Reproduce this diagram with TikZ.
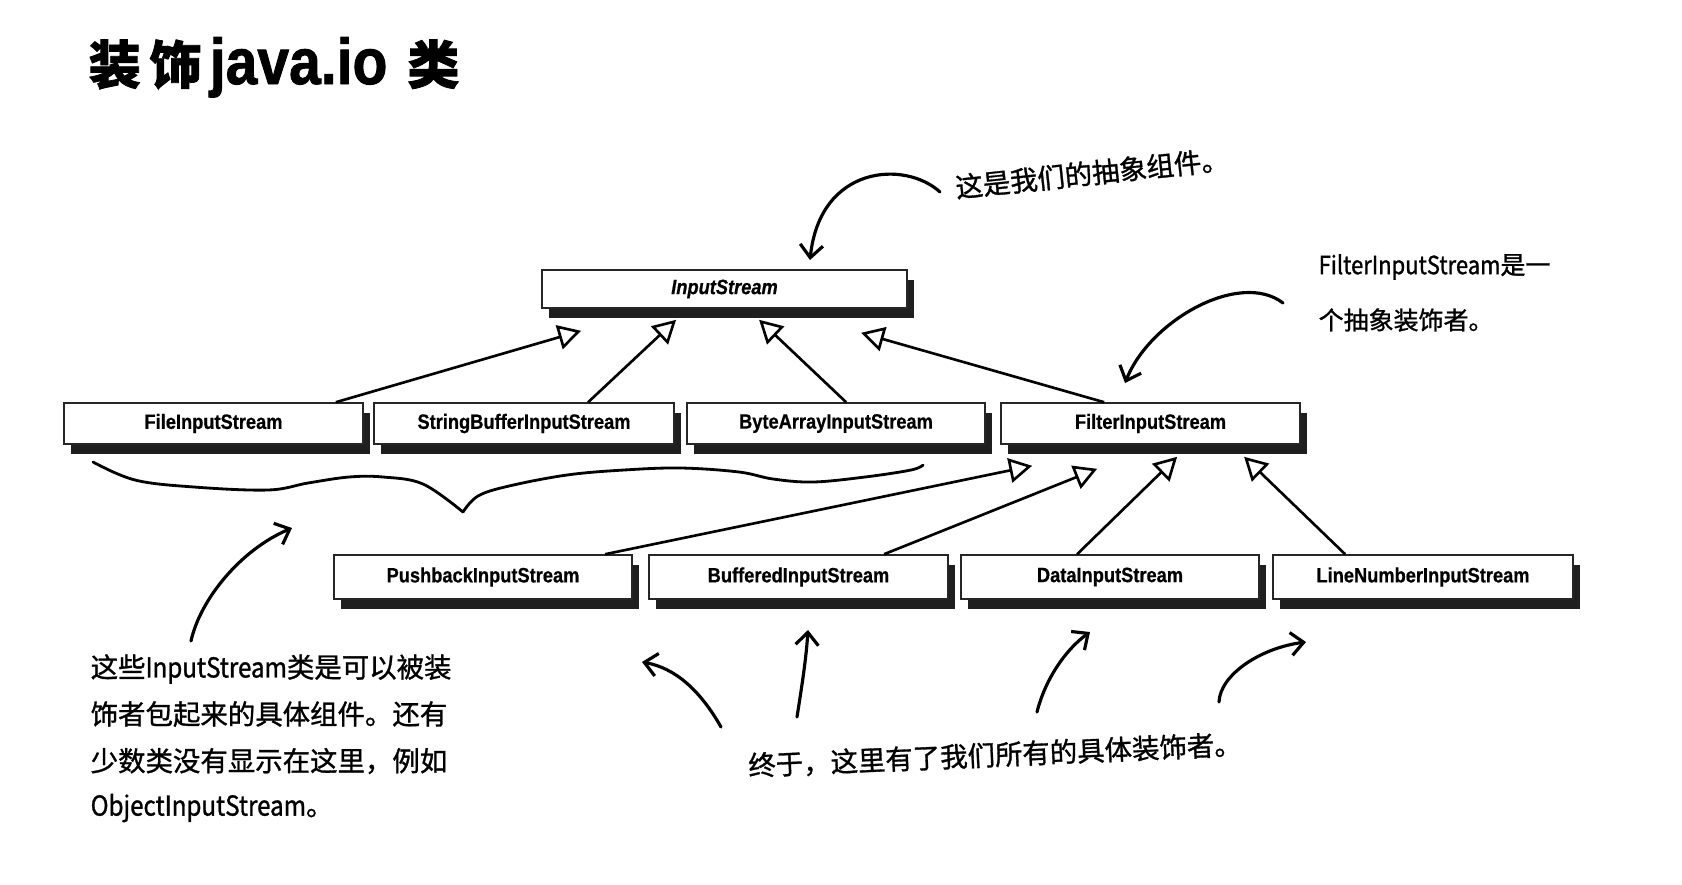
\documentclass[tikz,border=0pt]{standalone}
\usepackage{fontspec}
\usepackage{graphicx}
\setmainfont{Liberation Sans}
\newfontfamily\boxfont[FakeStretch=0.88,FakeBold=0.6]{Liberation Sans}
\newfontfamily\titlelat[FakeStretch=1.04,FakeBold=1.5]{Liberation Sans}
\newfontfamily\cjkt[FakeBold=1.5]{Noto Sans CJK SC}
\newfontfamily\cjk[FakeBold=1.1]{Noto Sans CJK SC}
\newfontfamily\cjklat[FakeStretch=0.88,FakeBold=1.1]{Noto Sans CJK SC}
\usetikzlibrary{arrows.meta,shadows,calc}
\begin{document}
\begin{tikzpicture}[x=0.01cm,y=-0.01cm,
  cls/.style={draw=black!85,line width=0.45pt,fill=white,inner sep=0pt,
    font=\boxfont\fontsize{5.9pt}{7pt}\selectfont\bfseries,
    drop shadow={shadow xshift=2pt,shadow yshift=-2.8pt,fill=black,opacity=0.88}},
  row2/.style={cls,minimum height=0.41cm},
  row3/.style={cls,minimum height=0.44cm},
  gen/.style={line width=0.75pt,-{Triangle[open,length=6.5pt,width=7pt,line width=0.75pt]}},
  hand/.style={line width=0.9pt,line cap=round,-{Straight Barb[length=3.6pt,width=6.5pt,line width=0.9pt]}},
  note/.style={inner sep=0pt,font=\cjk\fontsize{7.8pt}{9pt}\selectfont},
  note2/.style={inner sep=0pt,font=\cjk\fontsize{7.1pt}{9pt}\selectfont}
]
\fill[white] (0,0) rectangle (1682,884);
\useasboundingbox (0,0) rectangle (1682,884);

% title
\node[inner sep=0pt,anchor=base west] (title) at (88,84)
  {\fontsize{14.8pt}{16pt}\selectfont\cjkt\bfseries 装\hspace{0.09cm}饰\hspace{0.08cm}{\titlelat\fontsize{15.6pt}{16pt}\selectfont\bfseries\scalebox{1}[1.18]{java.io}}\hspace{0.2cm}类};

% class boxes
\node[cls,minimum width=3.65cm,minimum height=0.38cm,font=\boxfont\fontsize{5.9pt}{7pt}\selectfont\bfseries\itshape] (inp) at (724.5,289) {InputStream};
\node[row2,minimum width=2.99cm] (file) at (213.5,423.5) {FileInputStream};
\node[row2,minimum width=3.00cm] (sb) at (524,423.5) {StringBufferInputStream};
\node[row2,minimum width=2.98cm] (ba) at (836,423.5) {ByteArrayInputStream};
\node[row2,minimum width=2.99cm] (filt) at (1150.5,423.5) {FilterInputStream};
\node[row3,minimum width=2.98cm] (push) at (483,577) {PushbackInputStream};
\node[row3,minimum width=2.99cm] (buf) at (798.5,577) {BufferedInputStream};
\node[row3,minimum width=2.98cm] (data) at (1110,577) {DataInputStream};
\node[row3,minimum width=3.00cm] (lnum) at (1423,577) {LineNumberInputStream};

% generalization arrows
\draw[gen] ($(file.north east)+(-28,0)$) -- ($(inp.south west)+(40,22)$);
\draw[gen] ($(sb.north west)+(215,0)$) -- ($(inp.south west)+(135,11)$);
\draw[gen] ($(ba.north west)+(160,0)$) -- ($(inp.south west)+(218,11)$);
\draw[gen] ($(filt.north west)+(104,0)$) -- ($(inp.south west)+(320,24)$);
\draw[gen] ($(push.north west)+(272,0)$) -- ($(filt.south west)+(32,21)$);
\draw[gen] ($(buf.north west)+(236,0)$) -- ($(filt.south west)+(97,24)$);
\draw[gen] ($(data.north west)+(117,0)$) -- ($(filt.south west)+(177,12)$);
\draw[gen] ($(lnum.north west)+(73,0)$) -- ($(filt.south west)+(244,12)$);

% annotations
\node[note,rotate=6] (n1) at (1092,173) {这是我们的抽象组件。};
\node[note2,anchor=west] (n2a) at (1318,267) {{\cjklat FilterInputStream}是一};
\node[note2,anchor=west] (n2b) at (1318,320) {个抽象装饰者。};
\node[note,anchor=west] (n3a) at (90,669) {这些{\cjklat InputStream}类是可以被装};
\node[note,anchor=west] (n3b) at (90,714) {饰者包起来的具体组件。还有};
\node[note,anchor=west] (n3c) at (90,761) {少数类没有显示在这里，例如};
\node[note,anchor=west] (n3d) at (90,808) {{\cjklat ObjectInputStream}。};
\node[note,rotate=2.5] (n4) at (995,755) {终于，这里有了我们所有的具体装饰者。};

% hand drawn arrows
\coordinate (h1s) at (940,192); \coordinate (h1e) at (810,260);
\draw[hand] (h1s) .. controls (905,160) and (820,165) .. (h1e);
\coordinate (h2s) at (1283,303); \coordinate (h2e) at (1125,383);
\draw[hand] (h2s) .. controls (1240,270) and (1150,320) .. (h2e);
\coordinate (h3s) at (191,641); \coordinate (h3e) at (292,528);
\draw[hand] (h3s) .. controls (200,600) and (240,550) .. (h3e);
\coordinate (h4s) at (721,727); \coordinate (h4e) at (642,662);
\draw[hand] (h4s) .. controls (700,690) and (675,668) .. (h4e);
\coordinate (h5s) at (797,717); \coordinate (h5e) at (808,630);
\draw[hand] (h5s) .. controls (802,685) and (806,660) .. (h5e);
\coordinate (h6s) at (1037,712); \coordinate (h6e) at (1090,632);
\draw[hand] (h6s) .. controls (1045,680) and (1065,650) .. (h6e);
\coordinate (h7s) at (1219,702); \coordinate (h7e) at (1306,642);
\draw[hand] (h7s) .. controls (1220,675) and (1260,648) .. (h7e);

% brace
\draw[line width=0.8pt,line cap=round] plot[smooth,tension=0.6] coordinates
  {(93,462) (135,480) (194,487) (268,490) (308,483) (349,477) (383,477) (423,484) (463,512)};
\draw[line width=0.8pt,line cap=round] plot[smooth,tension=0.6] coordinates
  {(463,512) (478,496) (509,486) (567,475) (624,470) (681,468) (739,472) (773,479) (813,482) (865,477) (911,470) (923,465)};
\end{tikzpicture}
\end{document}
